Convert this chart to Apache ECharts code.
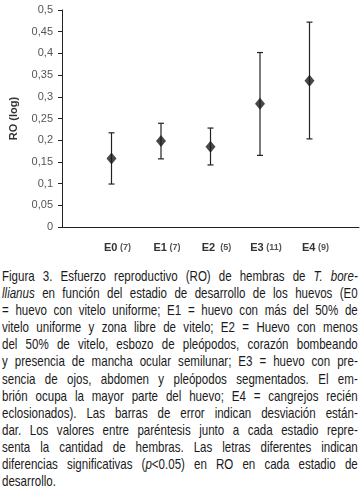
<!DOCTYPE html>
<html>
<head>
<meta charset="utf-8">
<script src="https://cdn.jsdelivr.net/npm/echarts@6/dist/echarts.min.js"></script>
<style>
	html, body { margin: 0; padding: 0; background: #fff; }
	#chart { width: 362px; height: 262px; }
	#caption {
		position: absolute; left: 2px; top: 267px; width: 462px;
		transform: scaleX(0.77); transform-origin: 0 0;
		font-family: "Liberation Sans", Arial, sans-serif;
		font-size: 15px; line-height: 17.1px; color: #1a1a1a;
	}
	#caption div { text-align: justify; text-align-last: justify; white-space: nowrap; }
	#caption div.last { text-align-last: left; }
</style>
</head>
<body>
<div id="chart"></div>
<div id="caption"></div>
<script>
const stages = ["E0", "E1", "E2", "E3", "E4"];
const counts = ["(7)", "(7)", "(5)", "(11)", "(9)"];
const means = [0.158, 0.198, 0.185, 0.284, 0.337];
const lower = [0.099, 0.157, 0.143, 0.165, 0.203];
const upper = [0.217, 0.239, 0.228, 0.402, 0.472];

const captionLines = [
	"Figura 3. Esfuerzo reproductivo (RO) de hembras de <i>T. bore-</i>",
	"<i>llianus</i> en función del estadio de desarrollo de los huevos (E0",
	"= huevo con vitelo uniforme; E1 = huevo con más del 50% de",
	"vitelo uniforme y zona libre de vitelo; E2 = Huevo con menos",
	"del 50% de vitelo, esbozo de pleópodos, corazón bombeando",
	"y presencia de mancha ocular semilunar; E3 = huevo con pre-",
	"sencia de ojos, abdomen y pleópodos segmentados. El em-",
	"brión ocupa la mayor parte del huevo; E4 = cangrejos recién",
	"eclosionados). Las barras de error indican desviación están-",
	"dar. Los valores entre paréntesis junto a cada estadio repre-",
	"senta la cantidad de hembras. Las letras diferentes indican",
	"diferencias significativas (<i>p</i>&lt;0.05) en RO en cada estadio de",
	"desarrollo."
];

document.getElementById("caption").innerHTML = captionLines
	.map((l, i) => `<div${i === captionLines.length - 1 ? ' class="last"' : ""}>${l}</div>`)
	.join("");

const chart = echarts.init(document.getElementById("chart"));

const pontos = means.map((m, i) => [i + 1, m]);
const barras = means.map((m, i) => [i + 1, lower[i], upper[i]]);

option = {
	animation: false,
	textStyle: { fontFamily: "Liberation Sans" },
	grid: { left: 53, right: 3, top: 10, bottom: 35 },
	xAxis: {
		type: "value",
		min: 0,
		max: 6,
		interval: 1,
		splitLine: { show: false },
		axisTick: { show: false },
		axisLine: { lineStyle: { color: "#222", width: 1 } },
		axisLabel: {
			margin: 15,
			padding: [0, 0, 0, 12],
			fontFamily: "Liberation Sans",
			formatter: v => {
				const i = v - 1;
				if (i < 0 || i >= stages.length) return "";
				return `{b|${stages[i]}}{s|${i === 2 ? "  " : " "}${counts[i]}}`;
			},
			rich: {
				b: { fontSize: 11, fontWeight: "bold", color: "#333", fontFamily: "Liberation Sans" },
				s: { fontSize: 9, fontWeight: "bold", color: "#555", fontFamily: "Liberation Sans" }
			}
		}
	},
	yAxis: {
		type: "value",
		min: 0,
		max: 0.5,
		interval: 0.05,
		name: "RO (log)",
		nameLocation: "middle",
		nameGap: 43,
		nameTextStyle: { fontSize: 11, fontWeight: "bold", color: "#333", fontFamily: "Liberation Sans" },
		splitLine: { show: false },
		axisLine: { show: true, lineStyle: { color: "#222", width: 1 } },
		axisTick: { show: true, length: 4, lineStyle: { color: "#222" } },
		axisLabel: {
			margin: 9,
			fontSize: 11,
			color: "#555",
			fontFamily: "Liberation Sans",
			formatter: v => String(parseFloat(v.toFixed(2))).replace(".", ",")
		}
	},
	series: [{
		type: "custom",
		data: barras,
		renderItem: (params, api) => {
			const x = api.value(0);
			const lo = api.coord([x, api.value(1)]);
			const hi = api.coord([x, api.value(2)]);
			const style = { stroke: "#222", lineWidth: 1.2 };
			return {
				type: "group",
				children: [
					{ type: "line", shape: { x1: hi[0], y1: hi[1], x2: lo[0], y2: lo[1] }, style },
					{ type: "line", shape: { x1: hi[0] - 3, y1: hi[1], x2: hi[0] + 3, y2: hi[1] }, style },
					{ type: "line", shape: { x1: lo[0] - 3, y1: lo[1], x2: lo[0] + 3, y2: lo[1] }, style }
				]
			};
		},
		z: 1
	}, {
		type: "scatter",
		data: pontos,
		symbol: "diamond",
		symbolSize: [10, 12],
		itemStyle: { color: "#1a1a1a" },
		z: 2
	}]
};

chart.setOption(option);
window.onresize = chart.resize;
</script>
</body>
</html>
